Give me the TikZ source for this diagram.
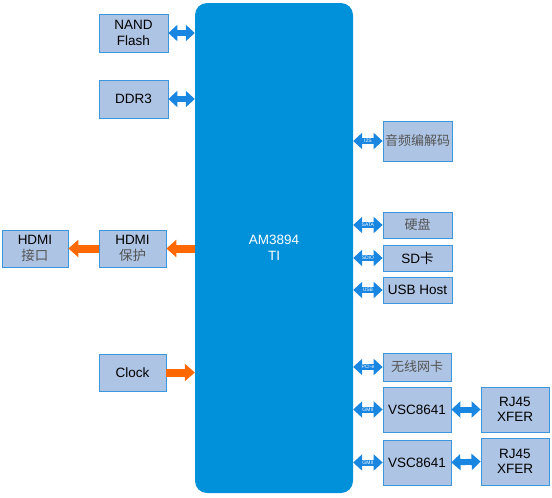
\documentclass[tikz,border=0pt]{standalone}
\usepackage{fontspec}
\setmainfont{Liberation Sans}
\newfontfamily\cjk{Noto Sans CJK SC}
\usetikzlibrary{arrows.meta}
\definecolor{chipblue}{RGB}{0,145,218}
\definecolor{boxfill}{RGB}{174,196,228}
\definecolor{boxline}{RGB}{60,150,220}
\definecolor{busblue}{RGB}{25,135,225}
\definecolor{hdmiorange}{RGB}{255,105,0}
\definecolor{cjkgray}{RGB}{85,85,85}

\begin{document}
\begin{tikzpicture}[x=1pt,y=-1pt,
  box/.style={draw=boxline,fill=boxfill,line width=0.8pt,align=center,inner sep=0pt,
    font=\fontsize{13.5}{15.5}\selectfont,minimum width=69pt},
  zh/.style={font=\cjk\fontsize{13}{15}\selectfont,text=cjkgray},
  bus/.style={draw=busblue,line width=6pt,{Triangle[width=16pt,length=9pt]}-{Triangle[width=16pt,length=9pt]}},
  buslabel/.style={text=white,font=\fontsize{5}{5}\selectfont,inner sep=0pt},
  hdmi/.style={draw=hdmiorange,line width=8pt,-{Triangle[width=17pt,length=10pt]}}]
  \useasboundingbox (0,0) rectangle (552,498);

  % processor
  \node[fill=chipblue,rounded corners=12pt,minimum width=158pt,minimum height=490pt,
    text=white,align=center,font=\fontsize{13.5}{15.5}\selectfont] (main) at (274,248) {AM3894\\TI};

  % left side
  \node[box,minimum height=38pt] (nand) at (133.5,33) {NAND\\Flash};
  \node[box,minimum height=38pt] (ddr) at (133.5,99) {DDR3};
  \node[box,minimum width=67pt,minimum height=37pt] (hdmip) at (132.5,248.5) {HDMI\\{\cjk\color{cjkgray}保护}};
  \node[box,minimum width=66pt,minimum height=37pt] (hdmii) at (35,248.5) {HDMI\\{\cjk\color{cjkgray}接口}};
  \node[box,minimum width=67pt,minimum height=37pt] (clock) at (132.5,372.5) {Clock};

  \draw[bus] (nand.east) -- (nand.east -| main.west);
  \draw[bus] (ddr.east) -- (ddr.east -| main.west);
  \draw[hdmi] (main.west |- hdmip.east) -- (hdmip.east);
  \draw[hdmi] (hdmip.west) -- (hdmii.east);
  \draw[hdmi] (clock.east) -- (clock.east -| main.west);

  % right side
  \node[box,zh,minimum height=40pt] (codec) at (417.5,141) {音频编解码};
  \node[box,zh,minimum height=26pt] (hdd) at (417.5,225) {硬盘};
  \node[box,minimum height=26pt] (sd) at (417.5,258) {SD{\cjk 卡}};
  \node[box,minimum height=26pt] (usb) at (417.5,290) {USB Host};
  \node[box,zh,minimum width=68pt,minimum height=28pt] (wifi) at (417,367) {无线网卡};
  \node[box,minimum width=68pt,minimum height=45pt] (vsc1) at (417,409.5) {VSC8641};
  \node[box,minimum width=68pt,minimum height=45pt] (rj1) at (515,409.5) {RJ45\\XFER};
  \node[box,minimum width=68pt,minimum height=45pt] (vsc2) at (417,462.5) {VSC8641};
  \node[box,minimum width=68pt,minimum height=47pt] (rj2) at (515,461.5) {RJ45\\XFER};

  \draw[bus] (main.east |- codec.west) -- (codec.west) node[buslabel,midway] {I2S};
  \draw[bus] (main.east |- hdd.west) -- (hdd.west) node[buslabel,midway] {SATA};
  \draw[bus] (main.east |- sd.west) -- (sd.west) node[buslabel,midway] {SDIO};
  \draw[bus] (main.east |- usb.west) -- (usb.west) node[buslabel,midway] {USB};
  \draw[bus] (main.east |- wifi.west) -- (wifi.west) node[buslabel,midway] {PCI-e};
  \draw[bus] (main.east |- vsc1.west) -- (vsc1.west) node[buslabel,midway] {GMII};
  \draw[bus] (main.east |- vsc2.west) -- (vsc2.west) node[buslabel,midway] {GMII};
  \draw[bus] (vsc1.east) -- (rj1.west);
  \draw[bus] (vsc2.east) -- (rj2.west);
\end{tikzpicture}
\end{document}
